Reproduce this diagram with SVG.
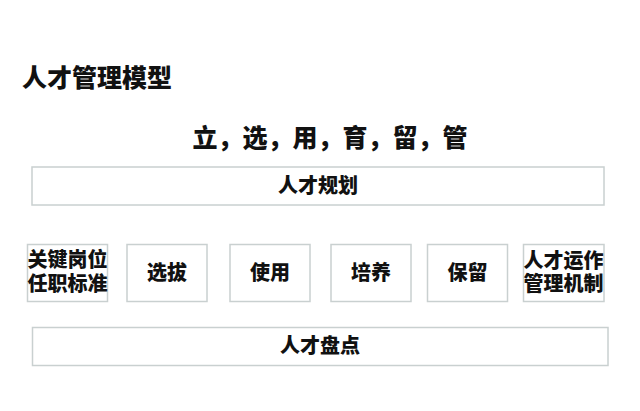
<svg xmlns="http://www.w3.org/2000/svg" width="640" height="411" viewBox="0 0 640 411">
<style>
  text { font-family: "Noto Sans CJK SC", "Noto Sans", sans-serif; font-weight: 900; fill: #111; }
  .box { fill: #fff; stroke: #c9d0d0; stroke-width: 1.5; }
  .lbl { font-size: 20px; text-anchor: middle; }
</style>
<rect width="640" height="411" fill="#fff"/>
<text x="22" y="86.5" font-size="25">人才管理模型</text>
<text x="330" y="146.5" font-size="25" text-anchor="middle">立，选，用，育，留，管</text>
<g id="plan">
  <rect class="box" x="32" y="167" width="572" height="38"/>
  <text class="lbl" x="318" y="193">人才规划</text>
</g>
<g id="standard">
  <rect class="box" x="27.5" y="244.5" width="80" height="57"/>
  <text class="lbl"><tspan x="67.5" y="267">关键岗位</tspan><tspan x="67.5" y="291">任职标准</tspan></text>
</g>
<g id="select">
  <rect class="box" x="127" y="244.5" width="80" height="57"/>
  <text class="lbl" x="167" y="280">选拔</text>
</g>
<g id="use">
  <rect class="box" x="230" y="244.5" width="80" height="57"/>
  <text class="lbl" x="270" y="280">使用</text>
</g>
<g id="train">
  <rect class="box" x="331" y="244.5" width="80" height="57"/>
  <text class="lbl" x="371" y="280">培养</text>
</g>
<g id="retain">
  <rect class="box" x="427.5" y="244.5" width="80" height="57"/>
  <text class="lbl" x="467.5" y="280">保留</text>
</g>
<g id="mechanism">
  <rect class="box" x="523.5" y="244.5" width="80.5" height="57"/>
  <text class="lbl"><tspan x="563.5" y="268">人才运作</tspan><tspan x="563.5" y="291">管理机制</tspan></text>
</g>
<g id="review">
  <rect class="box" x="32.5" y="327.5" width="575.5" height="38"/>
  <text class="lbl" x="320" y="353">人才盘点</text>
</g>
<g id="connectors"></g>
</svg>
